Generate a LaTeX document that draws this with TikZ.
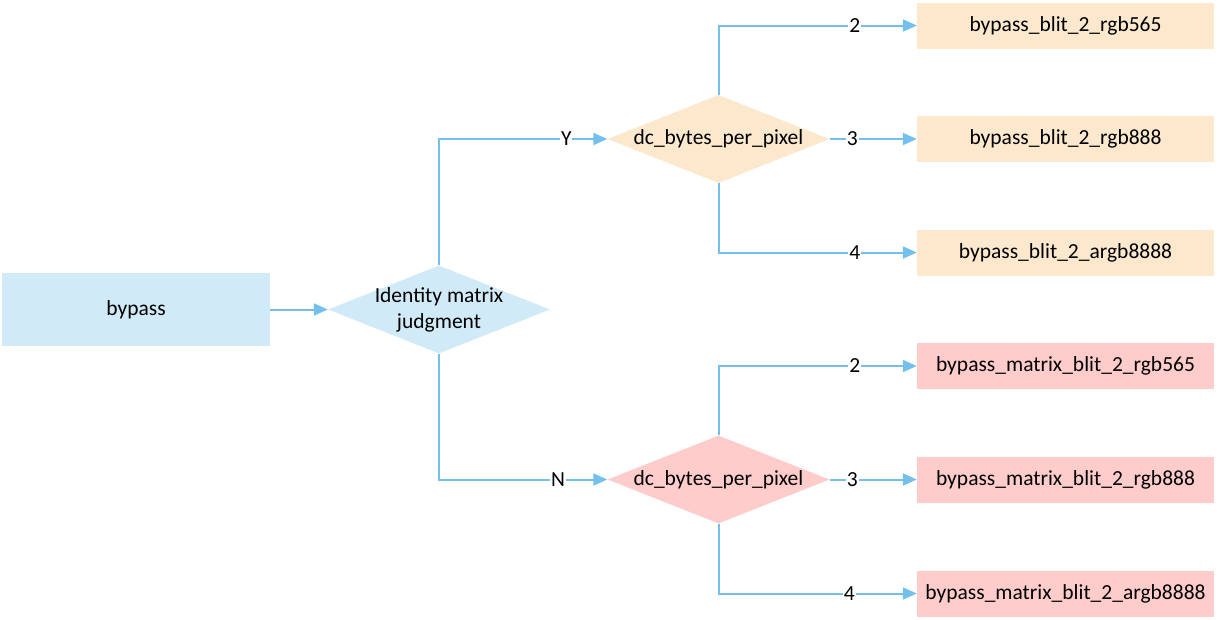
\documentclass[tikz,border=0pt]{standalone}
\usepackage{fontspec}
\setmainfont{Carlito}
\usepackage{xcolor}
\usetikzlibrary{arrows.meta,shapes.geometric}
\definecolor{flowblue}{RGB}{116,192,236}
\definecolor{boxblue}{RGB}{209,234,247}
\definecolor{boxorange}{RGB}{252,232,204}
\definecolor{boxpink}{RGB}{255,204,204}

\begin{document}
\begin{tikzpicture}[x=1pt, y=-1pt, font=\fontsize{21.5}{26}\selectfont,
  box/.style={rectangle, inner sep=0pt, minimum width=297pt, minimum height=46pt},
  choice/.style={diamond, inner sep=0pt, aspect=2.5, minimum width=222pt, minimum height=88pt},
  flow/.style={draw=flowblue, line width=2pt, -{Triangle[length=14pt,width=12pt]}},
  tag/.style={fill=white, inner sep=1pt}]
\useasboundingbox (0,0) rectangle (1222,619);
\node[rectangle, fill=boxblue, minimum width=268pt, minimum height=73pt] (bypass) at (136,309.5) {bypass};
\node[choice, fill=boxblue, label={[align=center]center:Identity matrix\\judgment}] (idm) at (439,309.5) {};
\node[choice, fill=boxorange, label={center:dc\_bytes\_per\_pixel}] (bppY) at (718.5,139) {};
\node[choice, fill=boxpink, label={center:dc\_bytes\_per\_pixel}] (bppN) at (718.5,479.5) {};
\node[box, fill=boxorange] (y565) at (1065.5,25.5) {bypass\_blit\_2\_rgb565};
\node[box, fill=boxorange] (y888) at (1065.5,139) {bypass\_blit\_2\_rgb888};
\node[box, fill=boxorange] (y8888) at (1065.5,252.5) {bypass\_blit\_2\_argb8888};
\node[box, fill=boxpink] (n565) at (1065.5,366) {bypass\_matrix\_blit\_2\_rgb565};
\node[box, fill=boxpink] (n888) at (1065.5,479.5) {bypass\_matrix\_blit\_2\_rgb888};
\node[box, fill=boxpink] (n8888) at (1065.5,593.5) {bypass\_matrix\_blit\_2\_argb8888};
\draw[flow] (bypass) -- (idm);
\draw[flow] (idm.north) |- node[tag, pos=0.878] {Y} (bppY.west);
\draw[flow] (idm.south) |- node[tag, pos=0.854] {N} (bppN.west);
\draw[flow] (bppY.north) |- node[tag, pos=0.844] {2} (y565.west);
\draw[flow] (bppY.east) -- node[tag, pos=0.26] {3} (y888.west);
\draw[flow] (bppY.south) |- node[tag, pos=0.844] {4} (y8888.west);
\draw[flow] (bppN.north) |- node[tag, pos=0.844] {2} (n565.west);
\draw[flow] (bppN.east) -- node[tag, pos=0.26] {3} (n888.west);
\draw[flow] (bppN.south) |- node[tag, pos=0.83] {4} (n8888.west);
\end{tikzpicture}
\end{document}
